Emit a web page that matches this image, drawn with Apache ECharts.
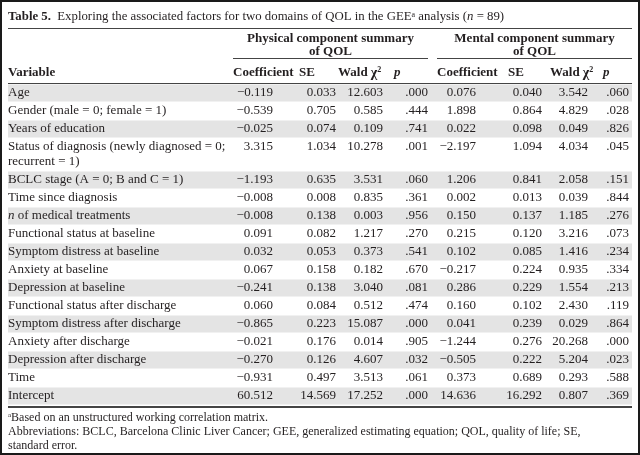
<!DOCTYPE html>
<html><head><meta charset="utf-8">
<script src="https://cdn.jsdelivr.net/npm/echarts@6/dist/echarts.min.js"></script>
<style>html,body{margin:0;padding:0;background:#fff}#c{width:640px;height:455px}</style>
</head><body><div id="c"></div>
<script>
// ---------- DATA ----------
const variables = [
  "Age",
  "Gender (male = 0; female = 1)",
  "Years of education",
  "Status of diagnosis (newly diagnosed = 0;\nrecurrent = 1)",
  "BCLC stage (A = 0; B and C = 1)",
  "Time since diagnosis",
  "{i|n} of medical treatments",
  "Functional status at baseline",
  "Symptom distress at baseline",
  "Anxiety at baseline",
  "Depression at baseline",
  "Functional status after discharge",
  "Symptom distress after discharge",
  "Anxiety after discharge",
  "Depression after discharge",
  "Time",
  "Intercept"
];
const physCoef = [-0.119, -0.539, -0.025, 3.315, -1.193, -0.008, -0.008, 0.091, 0.032, 0.067, -0.241, 0.060, -0.865, -0.021, -0.270, -0.931, 60.512];
const physSE   = [0.033, 0.705, 0.074, 1.034, 0.635, 0.008, 0.138, 0.082, 0.053, 0.158, 0.138, 0.084, 0.223, 0.176, 0.126, 0.497, 14.569];
const physWald = [12.603, 0.585, 0.109, 10.278, 3.531, 0.835, 0.003, 1.217, 0.373, 0.182, 3.040, 0.512, 15.087, 0.014, 4.607, 3.513, 17.252];
const physP    = [0.000, 0.444, 0.741, 0.001, 0.060, 0.361, 0.956, 0.270, 0.541, 0.670, 0.081, 0.474, 0.000, 0.905, 0.032, 0.061, 0.000];
const mentCoef = [0.076, 1.898, 0.022, -2.197, 1.206, 0.002, 0.150, 0.215, 0.102, -0.217, 0.286, 0.160, 0.041, -1.244, -0.505, 0.373, 14.636];
const mentSE   = [0.040, 0.864, 0.098, 1.094, 0.841, 0.013, 0.137, 0.120, 0.085, 0.224, 0.229, 0.102, 0.239, 0.276, 0.222, 0.689, 16.292];
const mentWald = [3.542, 4.829, 0.049, 4.034, 2.058, 0.039, 1.185, 3.216, 1.416, 0.935, 1.554, 2.430, 0.029, 20.268, 5.204, 0.293, 0.807];
const mentP    = [0.060, 0.028, 0.826, 0.045, 0.151, 0.844, 0.276, 0.073, 0.234, 0.334, 0.213, 0.119, 0.864, 0.000, 0.023, 0.588, 0.369];
const groupHeaders = ["Physical component summary\nof QOL", "Mental component summary\nof QOL"];
const colHeaders = ["Variable", "Coefficient", "SE", "Wald {chi|\u03c7}{sup|2}", "{ib|p}", "Coefficient", "SE", "Wald {chi|\u03c7}{sup|2}", "{ib|p}"];
const titleText = "{b|Table 5.}  Exploring the associated factors for two domains of QOL in the GEE{sup|a} analysis ({i|n} = 89)";
const footLines = [
  "{sup|a}Based on an unstructured working correlation matrix.",
  "Abbreviations: BCLC, Barcelona Clinic Liver Cancer; GEE, generalized estimating equation; QOL, quality of life; SE,",
  "standard error."
];

// ---------- LAYOUT / STYLE ----------
const FONT = '"Liberation Serif","Times New Roman",serif';
const INK = '#231f20';
const SHADE = '#e4e4e4';
const FS = 13;
const rowTop0 = 84, rowH = 18, rowH2 = 33;
const rowHeights = variables.map(v => v.indexOf('\n') >= 0 ? rowH2 : rowH);
const rowTops = [];
rowHeights.reduce((acc, h, i) => { rowTops[i] = acc; return acc + h; }, rowTop0);
const tableBottom = rowTops[rowTops.length - 1] + rowHeights[rowHeights.length - 1];
const numCols = [
  {vals: physCoef, right: 273, head: 233, fmt: 'num'},
  {vals: physSE,   right: 336, head: 299, fmt: 'num'},
  {vals: physWald, right: 383, head: 338, fmt: 'num'},
  {vals: physP,    right: 428, head: 394, fmt: 'p'},
  {vals: mentCoef, right: 476, head: 437, fmt: 'num'},
  {vals: mentSE,   right: 542, head: 508, fmt: 'num'},
  {vals: mentWald, right: 588, head: 550, fmt: 'num'},
  {vals: mentP,    right: 629, head: 603, fmt: 'p'}
];
const groupSpans = [[233, 428], [437, 632]];
function makeRich(fs) {
  return {
    i: {fontFamily: FONT, fontStyle: 'italic', fontSize: fs, fill: INK},
    ib: {fontFamily: FONT, fontStyle: 'italic', fontWeight: 'bold', fontSize: fs, fill: INK},
    b: {fontFamily: FONT, fontWeight: 'bold', fontSize: fs, fill: INK},
    chi: {fontFamily: FONT, fontWeight: 'bold', fontSize: fs + 1, fill: INK},
    sup: {fontFamily: FONT, fontSize: Math.round(fs * 0.62), fontWeight: 'bold', fill: INK, verticalAlign: 'top'}
  };
}
const rich = makeRich(FS);
const footRich = makeRich(12);
footRich.sup.fontWeight = 'normal';
const titleRich = makeRich(12.8);
titleRich.sup.fontWeight = 'normal';

function fmtNum(v) {
  const s = Math.abs(v).toFixed(3);
  return v < 0 ? '\u2212' + s : s;
}
function fmtP(v) { return v.toFixed(3).replace(/^0/, ''); }

const chart = echarts.init(document.getElementById('c'), null, {renderer: 'canvas'});

function textStyle(extra) {
  return Object.assign({font: FS + 'px ' + FONT, fill: INK, rich: rich}, extra);
}

const series = [];
// row shading
series.push({
  type: 'custom', coordinateSystem: 'cartesian2d', silent: true, z: 1,
  data: variables.map((v, i) => [8, rowTops[i], 632, rowTops[i] + rowHeights[i]]),
  encode: {x: [0, 2], y: [1, 3]},
  renderItem: (params, api) => {
    if (params.dataIndex % 2 !== 0) return null;
    const a = api.coord([api.value(0), api.value(1)]);
    const b = api.coord([api.value(2), api.value(3)]);
    return {type: 'rect', shape: {x: a[0], y: a[1] + 0.5, width: b[0] - a[0], height: b[1] - a[1] - 1}, style: {fill: SHADE}};
  }
});
// variable names
series.push({
  type: 'custom', coordinateSystem: 'cartesian2d', silent: true, z: 3,
  data: variables.map((v, i) => [8, rowTops[i] + 9]),
  encode: {x: 0, y: 1},
  renderItem: (params, api) => {
    const p = api.coord([api.value(0), api.value(1)]);
    return {type: 'text', x: p[0], y: p[1] - 7.5, style: textStyle({text: variables[params.dataIndex], textAlign: 'left', textVerticalAlign: 'top', lineHeight: 15})};
  }
});
// numeric columns
numCols.forEach(col => {
  series.push({
    type: 'custom', coordinateSystem: 'cartesian2d', silent: true, z: 3,
    data: col.vals.map((v, i) => [col.right, rowTops[i] + 9, v]),
    encode: {x: 0, y: 1},
    renderItem: (params, api) => {
      const p = api.coord([api.value(0), api.value(1)]);
      const v = api.value(2);
      return {type: 'text', x: p[0], y: p[1], style: textStyle({text: col.fmt === 'p' ? fmtP(v) : fmtNum(v), textAlign: 'right', textVerticalAlign: 'middle'})};
    }
  });
});

// headers and rules
const g = [];
g.push({type: 'rect', shape: {x: 1, y: 1, width: 638, height: 453}, style: {fill: null, stroke: '#1a1a1a', lineWidth: 2}, z: 10});
g.push({type: 'text', x: 8, y: 17, style: {text: titleText, font: '12.8px ' + FONT, fill: INK, textVerticalAlign: 'middle', rich: titleRich}});
g.push({type: 'line', shape: {x1: 8, y1: 28.5, x2: 632, y2: 28.5}, style: {stroke: '#444', lineWidth: 1}});
groupHeaders.forEach((t, k) => {
  const cx = (groupSpans[k][0] + groupSpans[k][1]) / 2;
  g.push({type: 'text', x: cx, y: 31.5, style: {text: t, font: 'bold ' + FS + 'px ' + FONT, fill: INK, textAlign: 'center', textVerticalAlign: 'top', lineHeight: 13.5}});
  g.push({type: 'line', shape: {x1: groupSpans[k][0], y1: 58.5, x2: groupSpans[k][1], y2: 58.5}, style: {stroke: '#444', lineWidth: 1}});
});
colHeaders.forEach((t, k) => {
  const x = k === 0 ? 8 : numCols[k - 1].head;
  g.push({type: 'text', x: x, y: 73, style: {text: t, font: 'bold ' + FS + 'px ' + FONT, fill: INK, textAlign: 'left', textVerticalAlign: 'middle', rich: rich}});
});
g.push({type: 'line', shape: {x1: 8, y1: 83.5, x2: 632, y2: 83.5}, style: {stroke: '#444', lineWidth: 1}});
g.push({type: 'line', shape: {x1: 8, y1: tableBottom + 2, x2: 632, y2: tableBottom + 2}, style: {stroke: '#444', lineWidth: 2}});
footLines.forEach((t, k) => {
  g.push({type: 'text', x: 8, y: 418 + k * 14, style: {text: t, font: '12px ' + FONT, fill: INK, textVerticalAlign: 'middle', rich: footRich}});
});

chart.setOption({
  animation: false,
  grid: {left: 0, right: 0, top: 0, bottom: 0},
  xAxis: {type: 'value', min: 0, max: 640, show: false},
  yAxis: {type: 'value', min: 0, max: 455, inverse: true, show: false},
  graphic: g,
  series: series
});
</script>
</body></html>
